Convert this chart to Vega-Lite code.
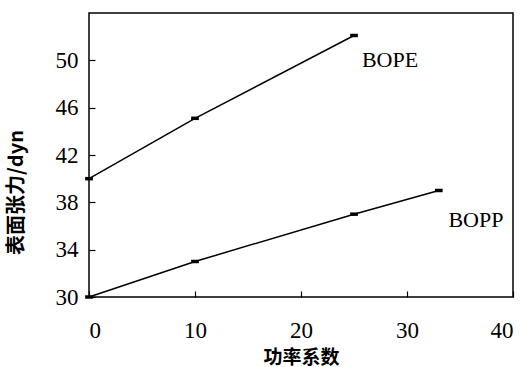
{
  "$schema": "https://vega.github.io/schema/vega-lite/v6.json",
  "autosize": "none",
  "width": 424,
  "height": 284,
  "padding": {"left": 89, "top": 13, "right": 14, "bottom": 70},
  "background": "white",
  "config": {
    "view": {"stroke": "black", "strokeWidth": 1.5},
    "axis": {"grid": false, "domain": false, "labelFont": "Liberation Serif", "labelFontSize": 23, "labelColor": "black", "tickColor": "black", "tickWidth": 1.2, "titleColor": "black", "titleFont": "Noto Sans CJK SC", "titleFontWeight": "bold", "titleFontSize": 20}
  },
  "datasets": {
    "pts": [
      {"series": "BOPE", "x": 0, "y": 40},
      {"series": "BOPE", "x": 10, "y": 45.1},
      {"series": "BOPE", "x": 25, "y": 52.1},
      {"series": "BOPP", "x": 0, "y": 30},
      {"series": "BOPP", "x": 10, "y": 33},
      {"series": "BOPP", "x": 25, "y": 37},
      {"series": "BOPP", "x": 33, "y": 39}
    ],
    "labels": [
      {"label": "BOPE", "x": 28.4, "y": 50.0},
      {"label": "BOPP", "x": 36.5, "y": 36.5}
    ]
  },
  "layer": [
    {
      "data": {"name": "pts"},
      "mark": {"type": "line", "color": "black", "strokeWidth": 1.5},
      "encoding": {
        "x": {"field": "x", "type": "quantitative", "scale": {"domain": [0, 40], "nice": false}, "axis": {"values": [0, 10, 20, 30, 40], "labelFont": "Liberation Serif", "labelFontSize": 23, "tickSize": -6, "labelPadding": 28, "title": "功率系数", "titleFont": "Noto Sans CJK SC", "titleFontSize": 19, "titleBaseline": "alphabetic", "titleY": 66}},
        "y": {"field": "y", "type": "quantitative", "scale": {"domain": [30, 54], "nice": false, "zero": false}, "axis": {"values": [30, 34, 38, 42, 46, 50], "labelFont": "Liberation Serif", "labelFontSize": 23, "tickSize": -6, "labelPadding": 17, "title": "表面张力/dyn", "titleFont": "Noto Sans CJK SC", "titleFontWeight": "bold", "titleFontSize": 20, "titleX": -73, "titleY": 179, "titleBaseline": "middle"}},
        "detail": {"field": "series"}
      }
    },
    {
      "data": {"name": "pts"},
      "mark": {"type": "point", "filled": true, "color": "black", "opacity": 1, "shape": "M-1,-0.45L1,-0.45L1,0.45L-1,0.45Z", "size": 60},
      "encoding": {
        "x": {"field": "x", "type": "quantitative"},
        "y": {"field": "y", "type": "quantitative"}
      }
    },
    {
      "data": {"name": "labels"},
      "mark": {"type": "text", "font": "Liberation Serif", "fontSize": 22, "color": "black", "align": "center", "baseline": "middle"},
      "encoding": {
        "x": {"field": "x", "type": "quantitative"},
        "y": {"field": "y", "type": "quantitative"},
        "text": {"field": "label"}
      }
    }
  ]
}
